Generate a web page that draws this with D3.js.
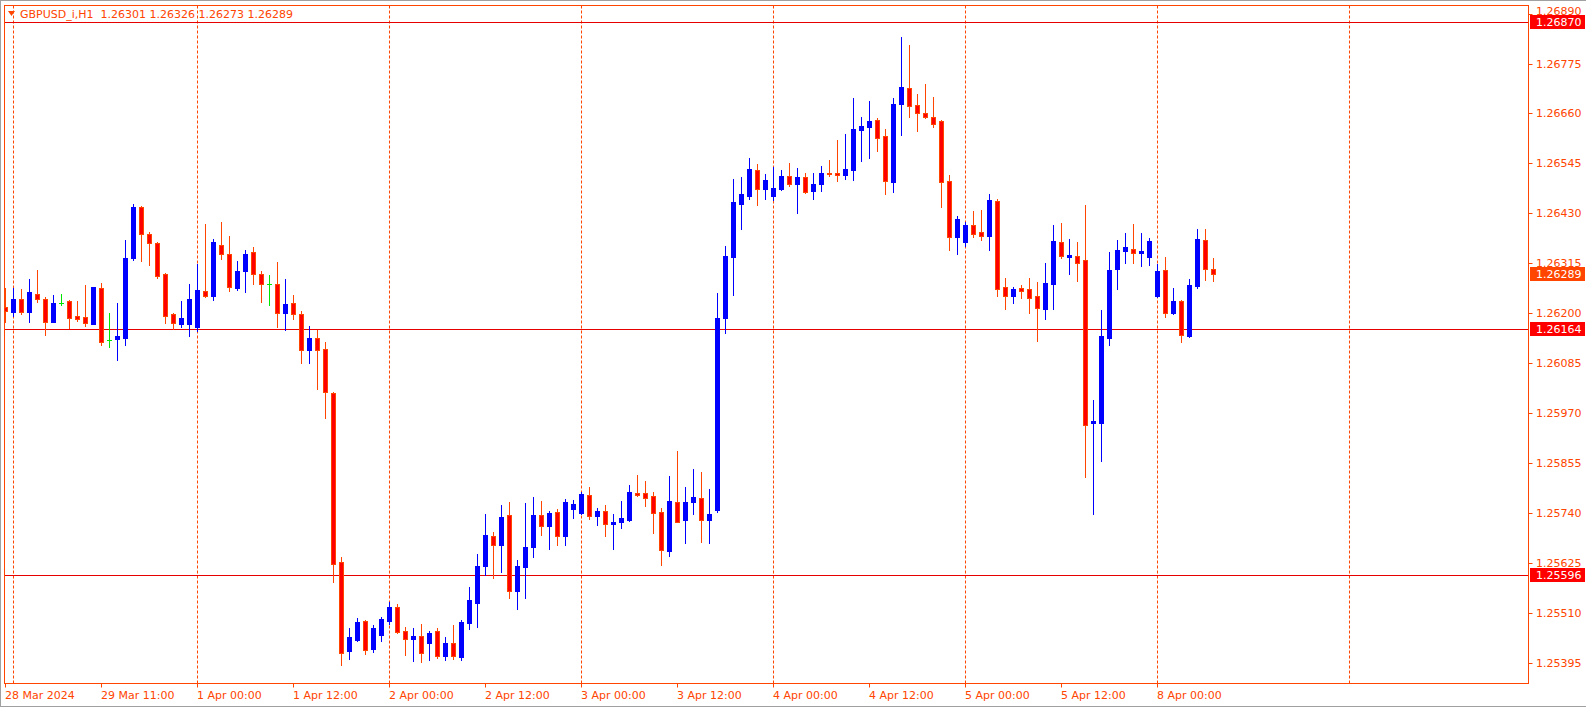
<!DOCTYPE html>
<html><head><meta charset="utf-8">
<script src="https://cdn.jsdelivr.net/npm/d3@7"></script>
<style>html,body{margin:0;padding:0;background:#fff;}svg{display:block;}</style>
</head><body>
<svg id="chart" width="1586" height="709"></svg>
<script>
const symbolTitle = "GBPUSD_i,H1  1.26301 1.26326 1.26273 1.26289";
const opens = [1.26213,1.26203,1.26232,1.26203,1.26245,1.26232,1.26180,1.26224,1.26228,1.26193,1.26191,1.26175,1.26257,1.26139,1.26141,1.26143,1.26327,1.26444,1.26383,1.26362,1.26290,1.26197,1.26175,1.26175,1.26168,1.26250,1.26239,1.26356,1.26337,1.26258,1.26297,1.26340,1.26291,1.26267,1.26267,1.26201,1.26223,1.26197,1.26115,1.26142,1.26117,1.26015,1.25626,1.25422,1.25446,1.25490,1.25426,1.25459,1.25491,1.25522,1.25467,1.25449,1.25457,1.25440,1.25467,1.25410,1.25441,1.25408,1.25486,1.25532,1.25618,1.25686,1.25666,1.25734,1.25560,1.25615,1.25661,1.25734,1.25710,1.25741,1.25687,1.25748,1.25740,1.25781,1.25733,1.25744,1.25714,1.25719,1.25724,1.25785,1.25785,1.25778,1.25741,1.25652,1.25764,1.25724,1.25765,1.25774,1.25724,1.25746,1.26188,1.26329,1.26451,1.26469,1.26529,1.26486,1.26469,1.26486,1.26515,1.26497,1.26513,1.26481,1.26497,1.26522,1.26522,1.26518,1.26529,1.26621,1.26628,1.26645,1.26608,1.26502,1.26682,1.26718,1.26679,1.26661,1.26651,1.26642,1.26504,1.26376,1.26364,1.26403,1.26386,1.26378,1.26458,1.26260,1.26240,1.26257,1.26255,1.26239,1.26210,1.26267,1.26363,1.26330,1.26331,1.26322,1.25947,1.25947,1.26143,1.26302,1.26343,1.26347,1.26339,1.26330,1.26240,1.26299,1.26201,1.26228,1.26148,1.26263,1.26368,1.26301];
const highs = [1.26257,1.26258,1.26255,1.26278,1.26299,1.26237,1.26241,1.26244,1.26230,1.26228,1.26264,1.26260,1.26269,1.26200,1.26223,1.26368,1.26451,1.26446,1.26386,1.26364,1.26292,1.26200,1.26228,1.26267,1.26313,1.26405,1.26370,1.26409,1.26377,1.26320,1.26345,1.26352,1.26298,1.26287,1.26317,1.26278,1.26241,1.26204,1.26170,1.26162,1.26133,1.26018,1.25637,1.25474,1.25497,1.25493,1.25481,1.25499,1.25534,1.25529,1.25477,1.25474,1.25483,1.25467,1.25474,1.25454,1.25481,1.25493,1.25569,1.25645,1.25737,1.25695,1.25758,1.25764,1.25631,1.25762,1.25776,1.25767,1.25744,1.25748,1.25771,1.25769,1.25787,1.25799,1.25751,1.25758,1.25737,1.25767,1.25804,1.25827,1.25813,1.25787,1.25751,1.25825,1.25882,1.25799,1.25840,1.25834,1.25794,1.26246,1.26354,1.26509,1.26513,1.26557,1.26543,1.26520,1.26536,1.26529,1.26545,1.26534,1.26522,1.26522,1.26538,1.26552,1.26598,1.26612,1.26695,1.26651,1.26688,1.26649,1.26624,1.26695,1.26836,1.26817,1.26704,1.26727,1.26698,1.26645,1.26518,1.26423,1.26410,1.26435,1.26437,1.26474,1.26462,1.26280,1.26260,1.26264,1.26280,1.26271,1.26315,1.26403,1.26407,1.26370,1.26363,1.26449,1.26000,1.26207,1.26340,1.26368,1.26384,1.26405,1.26384,1.26373,1.26313,1.26329,1.26257,1.26230,1.26278,1.26393,1.26393,1.26326];
const lows = [1.26180,1.26193,1.26198,1.26180,1.26226,1.26149,1.26179,1.26218,1.26166,1.26182,1.26170,1.26174,1.26126,1.26122,1.26092,1.26126,1.26322,1.26320,1.26310,1.26280,1.26177,1.26164,1.26168,1.26148,1.26159,1.26237,1.26230,1.26324,1.26251,1.26253,1.26249,1.26267,1.26226,1.26219,1.26168,1.26160,1.26187,1.26085,1.26085,1.26025,1.25959,1.25581,1.25389,1.25403,1.25444,1.25415,1.25420,1.25445,1.25483,1.25462,1.25413,1.25399,1.25396,1.25401,1.25406,1.25400,1.25404,1.25400,1.25472,1.25477,1.25596,1.25590,1.25604,1.25544,1.25519,1.25544,1.25638,1.25689,1.25657,1.25665,1.25665,1.25728,1.25737,1.25726,1.25712,1.25687,1.25657,1.25705,1.25721,1.25779,1.25756,1.25694,1.25620,1.25640,1.25719,1.25671,1.25737,1.25673,1.25671,1.25741,1.26154,1.26241,1.26393,1.26462,1.26449,1.26462,1.26460,1.26483,1.26492,1.26430,1.26476,1.26462,1.26481,1.26515,1.26504,1.26509,1.26506,1.26550,1.26557,1.26574,1.26475,1.26479,1.26611,1.26652,1.26620,1.26650,1.26629,1.26445,1.26345,1.26336,1.26354,1.26376,1.26369,1.26346,1.26240,1.26210,1.26224,1.26235,1.26201,1.26136,1.26187,1.26210,1.26327,1.26290,1.26274,1.25823,1.25737,1.25860,1.26126,1.26256,1.26316,1.26316,1.26309,1.26311,1.26237,1.26192,1.26198,1.26134,1.26145,1.26258,1.26277,1.26273];
const closes = [1.26204,1.26232,1.26203,1.26248,1.26233,1.26180,1.26223,1.26224,1.26189,1.26187,1.26177,1.26260,1.26133,1.26139,1.26148,1.26327,1.26444,1.26383,1.26362,1.26285,1.26194,1.26177,1.26188,1.26232,1.26253,1.26239,1.26363,1.26336,1.26260,1.26297,1.26337,1.26290,1.26267,1.26267,1.26201,1.26221,1.26197,1.26114,1.26142,1.26115,1.26018,1.25623,1.25417,1.25453,1.25488,1.25423,1.25474,1.25495,1.25522,1.25466,1.25448,1.25457,1.25418,1.25463,1.25410,1.25440,1.25409,1.25488,1.25539,1.25617,1.25688,1.25666,1.25730,1.25560,1.25617,1.25661,1.25734,1.25710,1.25739,1.25687,1.25764,1.25760,1.25783,1.25733,1.25744,1.25714,1.25718,1.25728,1.25787,1.25781,1.25774,1.25740,1.25654,1.25767,1.25719,1.25764,1.25776,1.25724,1.25737,1.26188,1.26331,1.26456,1.26474,1.26532,1.26486,1.26506,1.26488,1.26515,1.26497,1.26513,1.26479,1.26497,1.26522,1.26520,1.26518,1.26532,1.26624,1.26631,1.26642,1.26604,1.26505,1.26681,1.26721,1.26677,1.26661,1.26652,1.26636,1.26502,1.26376,1.26416,1.26403,1.26383,1.26378,1.26460,1.26256,1.26240,1.26255,1.26251,1.26235,1.26212,1.26269,1.26366,1.26332,1.26333,1.26316,1.25943,1.25952,1.26147,1.26299,1.26345,1.26352,1.26339,1.26343,1.26366,1.26297,1.26201,1.26228,1.26150,1.26264,1.26370,1.26301,1.26289];
const priceTicks = [1.26890,1.26775,1.26660,1.26545,1.26430,1.26315,1.26200,1.26085,1.25970,1.25855,1.25740,1.25625,1.25510,1.25395];
const levelLines = [1.26870,1.26164,1.25596];
const lastPrice = 1.26289;
const timeLabels = ["28 Mar 2024","29 Mar 11:00","1 Apr 00:00","1 Apr 12:00","2 Apr 00:00","2 Apr 12:00","3 Apr 00:00","3 Apr 12:00","4 Apr 00:00","4 Apr 12:00","5 Apr 00:00","5 Apr 12:00","8 Apr 00:00"];
const timeLabelBars = [0,12,24,36,48,60,72,84,96,108,120,132,144];
const daySeparatorBars = [1,24,48,72,96,120,144,168];

const AXIS = "#ff4500", BULL = "#0000ff", BEAR = "#ff0000", DOJI = "#00e600", LEVEL = "#e60000";
const FONT = "DejaVu Sans, sans-serif";
const svg = d3.select("#chart");
const L = 4.5, T = 5.5, R = 1528.5, B = 683.5;

const x = d3.scaleLinear().domain([0, 190]).range([5.5, 5.5 + 8 * 190]);
const y = d3.scaleLinear().domain([1.25395, 1.26870]).range([662.5, 22.3]);
const py = v => Math.round(y(v)) + 0.5;
const fmt = d3.format(".5f");

// window borders
svg.append("line").attr("x1",0).attr("x2",1586).attr("y1",0.5).attr("y2",0.5).attr("stroke","#a0a0a0");
svg.append("line").attr("x1",0.5).attr("x2",0.5).attr("y1",0).attr("y2",707).attr("stroke","#a0a0a0");
svg.append("line").attr("x1",0).attr("x2",1586).attr("y1",706.5).attr("y2",706.5).attr("stroke","#a0a0a0");

const plot = svg.append("g");
svg.append("clipPath").attr("id","clip").append("rect").attr("x",L).attr("y",T).attr("width",R-L).attr("height",B-T);
plot.attr("clip-path","url(#clip)");

// day separators
plot.selectAll("line.sep").data(daySeparatorBars).join("line").attr("class","sep")
  .attr("x1", d => x(d)).attr("x2", d => x(d)).attr("y1", T).attr("y2", B)
  .attr("stroke", AXIS).attr("stroke-width",1).attr("stroke-dasharray","3,2");

// level lines
plot.selectAll("line.lvl").data(levelLines).join("line").attr("class","lvl")
  .attr("x1", L).attr("x2", R).attr("y1", d => py(d)).attr("y2", d => py(d))
  .attr("stroke", LEVEL).attr("stroke-width",1);

// candles
const bars = d3.range(opens.length).map(i => ({i, o: opens[i], h: highs[i], l: lows[i], c: closes[i]}));
const col = d => d.c > d.o ? BULL : (d.c < d.o ? "#ff4500" : DOJI);
const g = plot.selectAll("g.bar").data(bars).join("g").attr("class","bar");
g.append("line").attr("x1", d => x(d.i)).attr("x2", d => x(d.i))
  .attr("y1", d => py(d.h) - 0.5).attr("y2", d => py(d.l) + 0.5)
  .attr("stroke", col).attr("stroke-width",1);
g.filter(d => d.c !== d.o).append("rect")
  .attr("x", d => x(d.i) - 2).attr("width", 4)
  .attr("y", d => py(Math.max(d.o, d.c)))
  .attr("height", d => Math.max(0.01, py(Math.min(d.o, d.c)) - py(Math.max(d.o, d.c))))
  .attr("fill", d => d.c > d.o ? BULL : BEAR)
  .attr("stroke", d => d.c > d.o ? BULL : "#ff4500").attr("stroke-width",1);
g.filter(d => d.c === d.o).append("line")
  .attr("x1", d => x(d.i) - 2.5).attr("x2", d => x(d.i) + 2.5)
  .attr("y1", d => py(d.o)).attr("y2", d => py(d.o)).attr("stroke", DOJI);

// frame
svg.append("rect").attr("x",L).attr("y",T).attr("width",R-L).attr("height",B-T)
  .attr("fill","none").attr("stroke",AXIS).attr("stroke-width",1);

// level label boxes (positions)
const labs = levelLines.map(v => ({v, bg: "#ff0000"})).concat([{v: lastPrice, bg: "#ff4500"}]);
const boxTop = d => Math.round(y(d.v)) - 7;
const boxBottom = d => Math.round(y(d.v)) + 7;

// price axis
const baseline = v => {
  let b = y(v) + 4;
  labs.forEach(l => { if (b > boxTop(l) && b < boxBottom(l) && y(v) < y(l.v)) b = boxTop(l) - 0.5; });
  return b;
};
const pa = svg.append("g");
pa.selectAll("line").data(priceTicks).join("line")
  .attr("x1", R).attr("x2", R + 4).attr("y1", d => py(d)).attr("y2", d => py(d)).attr("stroke", AXIS);
pa.selectAll("text").data(priceTicks).join("text")
  .attr("x", 1536).attr("y", d => baseline(d)).text(d => fmt(d))
  .attr("fill", AXIS).style("font", "11px " + FONT);

const lg = svg.selectAll("g.lab").data(labs).join("g").attr("class","lab");
lg.append("rect").attr("x", 1530).attr("y", d => boxTop(d)).attr("width", 55).attr("height", 14).attr("fill", d => d.bg);
lg.append("text").attr("x", 1536).attr("y", d => y(d.v) + 4).text(d => fmt(d.v))
  .attr("fill", "#fff").style("font", "11px " + FONT);

// time axis
const ta = svg.append("g");
ta.selectAll("line").data(timeLabelBars).join("line")
  .attr("x1", d => x(d)).attr("x2", d => x(d)).attr("y1", B).attr("y2", B + 4).attr("stroke", AXIS);
ta.selectAll("text").data(timeLabels).join("text")
  .attr("x", (d, k) => x(timeLabelBars[k]) - 0.5).attr("y", 699).text(d => d)
  .attr("fill", AXIS).style("font", "11px " + FONT);

// header
svg.append("path").attr("d", "M8,11 L15,11 L11.5,16 Z").attr("fill", AXIS);
svg.append("text").attr("x", 20).attr("y", 18).text(symbolTitle).attr("fill", AXIS).style("font", "11px " + FONT).style("white-space","pre");
</script>
</body></html>
